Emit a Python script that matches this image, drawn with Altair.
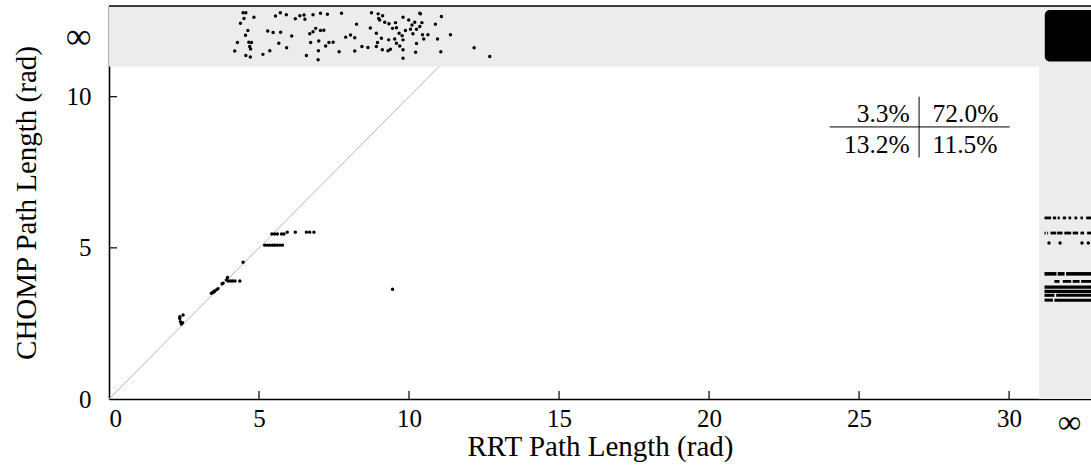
import altair as alt
import pandas as pd

FONT = "Liberation Serif"
XMAX = 32.73          # right edge of the visible plot (figure is cut here)
YMAX = 13.0
BAND_X = 31.0         # start of the "RRT failed" (x = inf) band
BAND_Y = 11.0         # start of the "CHOMP failed" (y = inf) band
INF_X = 32.0
INF_Y = 12.0

x_ticks = [0, 5, 10, 15, 20, 25, 30]
y_ticks = [0, 5, 10]

# both planners succeeded
fin_x = [2.36, 2.47, 2.38, 2.41, 2.45, 2.36,
         3.41, 3.47, 3.52, 3.58, 3.63, 3.50,
         3.80, 3.77, 3.95, 3.91, 3.97, 4.05, 4.12, 4.20, 4.36,
         4.47,
         5.19, 5.28, 5.36, 5.45, 5.52, 5.60, 5.69, 5.78,
         5.43, 5.52, 5.61, 5.75, 5.83,
         5.94, 6.21, 6.58, 6.69, 6.83,
         9.45]
fin_y = [2.72, 2.78, 2.56, 2.48, 2.52, 2.66,
         3.50, 3.53, 3.57, 3.61, 3.65, 3.55,
         3.83, 3.81, 4.02, 3.94, 3.90, 3.90, 3.90, 3.90, 3.90,
         4.52,
         5.09, 5.09, 5.09, 5.09, 5.09, 5.09, 5.09, 5.09,
         5.46, 5.46, 5.46, 5.46, 5.46,
         5.52, 5.52, 5.52, 5.52, 5.52,
         3.63]

# CHOMP failed (plotted in the infinity band, jittered)
top_x = [4.47, 4.56, 4.83, 4.50, 4.38, 5.55, 5.71, 5.91, 6.21, 6.36, 6.50, 6.53,
         6.80, 7.05, 7.28, 7.75, 8.75, 8.97, 8.99, 9.12, 9.02, 9.19, 9.33, 9.55,
         9.80, 9.99, 10.10, 10.19, 10.36, 10.38, 10.43, 10.36, 10.88, 11.08,
         4.63, 4.55, 5.29, 5.47, 5.72, 6.09, 6.69, 6.80, 6.89, 7.05, 7.16, 8.25,
         8.71, 9.45, 9.58, 9.67, 9.77, 9.88, 10.05, 10.13, 10.25, 10.45, 10.63,
         10.95, 11.38,
         4.28, 4.66, 4.75, 4.69, 4.72, 5.66, 5.92, 6.72, 6.99, 7.33, 7.47, 7.22,
         7.89, 8.05, 8.19, 8.91, 8.95, 9.08, 9.32, 9.52, 9.80, 9.69, 9.58, 8.91,
         8.63, 8.43, 9.11, 9.30, 9.38, 9.80, 10.25, 10.49,
         4.19, 4.56, 4.71, 5.13, 5.36, 6.58, 6.98, 6.97, 7.67, 8.19, 9.80, 10.22,
         11.06, 12.17, 12.69]
top_y = [12.78, 12.78, 12.63, 12.59, 12.43, 12.67, 12.78, 12.71, 12.58, 12.68, 12.70, 12.56,
         12.71, 12.76, 12.73, 12.76, 12.78, 12.74, 12.59, 12.68, 12.54, 12.46, 12.41, 12.45,
         12.63, 12.54, 12.37, 12.46, 12.76, 12.74, 12.45, 12.32, 12.40, 12.65,
         12.19, 12.03, 12.17, 12.12, 12.13, 12.01, 12.08, 12.15, 12.26, 12.19, 12.20, 12.40,
         12.27, 12.26, 12.28, 12.10, 12.02, 12.19, 12.23, 12.08, 12.23, 12.05, 12.05,
         11.91, 12.05,
         11.79, 11.80, 11.79, 11.66, 11.58, 11.77, 11.62, 11.79, 11.84, 11.79, 11.80, 11.68,
         11.97, 12.04, 11.95, 12.10, 11.79, 11.93, 11.88, 11.91, 11.88, 11.68, 11.77, 11.66,
         11.63, 11.66, 11.55, 11.52, 11.57, 11.55, 11.76, 11.91,
         11.51, 11.36, 11.31, 11.40, 11.52, 11.36, 11.52, 11.22, 11.49, 11.51, 11.27, 11.47,
         11.49, 11.62, 11.33]

# RRT failed: sparse row of single points
inf_dot_x = [31.33, 31.70, 32.43, 32.64]
inf_dot_y = [5.16, 5.16, 5.16, 5.16]

# RRT failed: dense rows, drawn as runs of overlapping points
seg_y = [5.99] * 8 + [5.49] * 8 + [4.14] * 3 + [3.89] * 4 + [3.70, 3.56] + [3.43] * 2 + [3.27] * 2
seg_x1 = [31.18, 31.46, 31.62, 31.79, 31.98, 32.18, 32.38, 32.57,
          31.18, 31.27, 31.38, 31.60, 31.84, 32.12, 32.38, 32.60,
          31.18, 31.62, 31.90,
          31.51, 31.79, 32.12, 32.40,
          31.18, 31.18,
          31.18, 31.57,
          31.18, 31.51]
seg_x2 = [31.40, 31.57, 31.69, 31.90, 32.07, 32.27, 32.46, 32.80,
          31.22, 31.30, 31.57, 31.78, 32.07, 32.30, 32.50, 32.80,
          31.58, 31.85, 32.80,
          31.68, 32.07, 32.35, 32.80,
          32.80, 32.80,
          31.51, 32.80,
          31.46, 32.80]
seg_w = [2.8] * 8 + [2.8] * 8 + [3.6] * 3 + [2.8] * 4 + [3.4, 3.4] + [3.0] * 2 + [3.0] * 2

# both failed: dense blob in the corner
blob_x = [31.19]
blob_x2 = [32.9]
blob_y = [11.16]
blob_y2 = [12.87]

# 2x2 outcome table
cell_left = ["3.3%", "13.2%"]
cell_right = ["72.0%", "11.5%"]
cell_row_y = [9.17, 8.15]
table_split_x = 27.0
table_split_y = 9.0

X_TITLE = "RRT Path Length (rad)"
Y_TITLE = "CHOMP Path Length (rad)"

xs = alt.Scale(domain=[0, XMAX], nice=False, zero=False)
ys = alt.Scale(domain=[0, YMAX], nice=False, zero=False)

x_is_inf = f"datum.value == {INF_X}"
y_is_inf = f"datum.value == {INF_Y}"

x_axis = alt.Axis(
    values=x_ticks + [INF_X],
    labelExpr=f"{x_is_inf} ? '∞' : format(datum.value, 'd')",
    ticks=False, grid=False, labelPadding=7,
    titleBaseline="alphabetic", titleY=56,
    domainColor="black", domainWidth=1.6,
    labelFont=FONT,
    labelFontSize={"condition": {"test": x_is_inf, "value": 33}, "value": 25},
    labelColor="black",
    titleFont=FONT, titleFontSize=29, titleFontWeight="normal", titleColor="black",
)
y_axis = alt.Axis(
    values=y_ticks + [INF_Y],
    labelExpr=f"{y_is_inf} ? '∞' : format(datum.value, 'd')",
    ticks=False, grid=False, labelPadding=18,
    titlePadding=24, domainColor="black", domainWidth=1.6,
    labelFont=FONT,
    labelFontSize={"condition": {"test": y_is_inf, "value": 36}, "value": 25},
    labelColor="black",
    titleFont=FONT, titleFontSize=29, titleFontWeight="normal", titleColor="black",
)


def X(field):
    return alt.X(field, scale=xs, axis=x_axis, title=X_TITLE)


def Y(field):
    return alt.Y(field, scale=ys, axis=y_axis, title=Y_TITLE)


bands = pd.DataFrame({"x1": [0, BAND_X], "x2": [BAND_X, XMAX],
                      "y1": [BAND_Y, 0], "y2": [YMAX, YMAX]})
band_layer = alt.Chart(bands).mark_rect(color="#ececec").encode(
    x=X("x1:Q"), x2="x2:Q", y=Y("y1:Q"), y2="y2:Q",
)

diag = pd.DataFrame({"x1": [0.0], "y1": [0.0], "x2": [BAND_Y], "y2": [BAND_Y]})
diag_layer = alt.Chart(diag).mark_rule(color="#b4b4b4", strokeWidth=1).encode(
    x=X("x1:Q"), y=Y("y1:Q"), x2="x2:Q", y2="y2:Q",
)

blob = pd.DataFrame({"x1": blob_x, "x2": blob_x2, "y1": blob_y, "y2": blob_y2})
blob_layer = alt.Chart(blob).mark_rect(color="black", cornerRadius=5, clip=True).encode(
    x=X("x1:Q"), x2="x2:Q", y=Y("y1:Q"), y2="y2:Q",
)

segs = pd.DataFrame({"x1": seg_x1, "x2": seg_x2, "y": seg_y, "w": seg_w})
seg_layer = alt.Chart(segs).mark_rule(color="black", clip=True).encode(
    x=X("x1:Q"), x2="x2:Q", y=Y("y:Q"),
    strokeWidth=alt.StrokeWidth("w:Q", scale=None, legend=None),
)

pts = pd.DataFrame({"x": fin_x + top_x + inf_dot_x, "y": fin_y + top_y + inf_dot_y})
pt_layer = alt.Chart(pts).mark_circle(color="black", size=12, opacity=1).encode(
    x=X("x:Q"), y=Y("y:Q"),
)

tlines = pd.DataFrame({"x1": [24.02, table_split_x], "x2": [30.02, table_split_x],
                       "y1": [table_split_y, 7.99], "y2": [table_split_y, 10.0]})
tline_layer = alt.Chart(tlines).mark_rule(color="black", strokeWidth=1).encode(
    x=X("x1:Q"), x2="x2:Q", y=Y("y1:Q"), y2="y2:Q",
)

tl = pd.DataFrame({"t": cell_left, "y": cell_row_y, "x": [26.69, 26.69]})
tr = pd.DataFrame({"t": cell_right, "y": cell_row_y, "x": [27.45, 27.45]})
tl_layer = alt.Chart(tl).mark_text(font=FONT, fontSize=25.5, align="right",
                                   baseline="alphabetic", color="black").encode(
    x=X("x:Q"), y=Y("y:Q"), text="t:N")
tr_layer = alt.Chart(tr).mark_text(font=FONT, fontSize=25.5, align="left",
                                   baseline="alphabetic", color="black").encode(
    x=X("x:Q"), y=Y("y:Q"), text="t:N")

xt = pd.DataFrame({"v": x_ticks[1:]})
xt_layer = alt.Chart(xt).mark_rule(color="black", strokeWidth=1.2).encode(
    x=X("v:Q"), y=alt.value(393), y2=alt.value(385))
yt = pd.DataFrame({"v": y_ticks[1:]})
yt_layer = alt.Chart(yt).mark_rule(color="black", strokeWidth=1.2).encode(
    y=Y("v:Q"), x=alt.value(0), x2=alt.value(8))

top_border = pd.DataFrame({"x1": [0.0], "x2": [XMAX], "y": [YMAX]})
top_layer = alt.Chart(top_border).mark_rule(color="black", strokeWidth=1.6).encode(
    x=X("x1:Q"), x2="x2:Q", y=Y("y:Q"))

chart = alt.layer(
    band_layer, diag_layer, blob_layer, seg_layer, pt_layer,
    tline_layer, tl_layer, tr_layer, xt_layer, yt_layer, top_layer,
).properties(
    width=982, height=393,
    autosize=alt.AutoSizeParams(type="none"),
    padding={"left": 109, "top": 6, "right": 0, "bottom": 68},
    background="white",
).configure_view(stroke=None)

chart.save("out.html", embed_options={"renderer": "svg", "actions": False})
